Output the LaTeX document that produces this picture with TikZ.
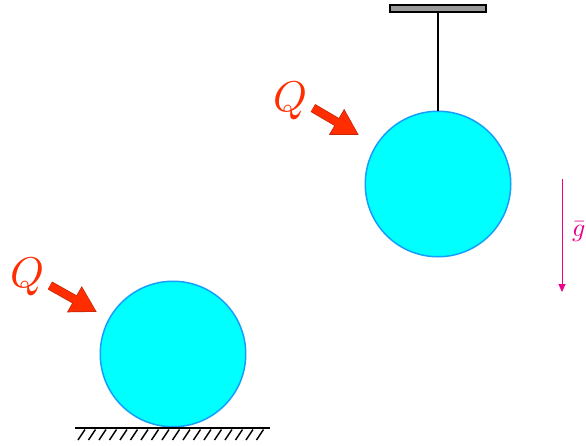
\documentclass[tikz,border=0pt]{standalone}
\usepackage{amsmath}
\usepackage{tikz}
\usetikzlibrary{arrows.meta,positioning,calc}
\definecolor{ballfill}{RGB}{0,255,255}
\definecolor{ballline}{RGB}{20,160,250}
\definecolor{heatred}{RGB}{255,45,0}
\definecolor{heatedge}{RGB}{190,40,10}
\definecolor{gravpink}{RGB}{236,0,140}
\tikzset{
  ball/.style={circle,draw=ballline,fill=ballfill,line width=1.5pt,minimum size=145.5pt,inner sep=0pt},
  heatedgearrow/.style={-{Triangle[length=26pt,width=28pt]},line width=9pt,draw=heatedge},
  heatarrow/.style={-{Triangle[length=24pt,width=25.5pt]},line width=7.5pt,draw=heatred},
  heatlabel/.style={scale=4.3,text=heatred,inner sep=0pt},
}
\begin{document}
\begin{tikzpicture}[x=1pt,y=-1pt]
\useasboundingbox (0,0) rectangle (586,445);
% lower ball on the ground
\node[ball] (lowball) at (173,354) {};
\draw[line width=1.8pt] (75,428) coordinate (groundl) -- (270,428) coordinate (groundr);
\foreach \i in {0,...,17}{
  \draw[line width=1.5pt] ({85+10.5*\i},429.5) -- ({78+10.5*\i},440);
}
\node[heatlabel] (lowq) at (27,276.5) {$Q$};
\coordinate (lowqs) at (50,285.5);
\coordinate (lowqe) at (97,312);
\draw[heatedgearrow] (lowqs) -- (lowqe);
\draw[heatarrow] (lowqs) -- ($(lowqe)!1.2pt!(lowqs)$);
% hanging ball
\node[ball] (highball) at (438,184) {};
\node[draw=black,fill=gray!80,line width=1.1pt,minimum width=96pt,minimum height=7pt,inner sep=0pt] (bar) at (438,8.5) {};
\draw[line width=1.8pt] (bar.south) -- (highball.north);
\node[heatlabel] (highq) at (290,100.5) {$Q$};
\coordinate (highqs) at (313,108);
\coordinate (highqe) at (359,135);
\draw[heatedgearrow] (highqs) -- (highqe);
\draw[heatarrow] (highqs) -- ($(highqe)!1.2pt!(highqs)$);
% gravity
\coordinate (gtop) at (562,179);
\coordinate (gbot) at (562,292);
\draw[gravpink,line width=0.9pt,-{Triangle[length=8pt,width=7pt]}] (gtop) -- (gbot);
\node[scale=2.6,text=gravpink,inner sep=0pt,anchor=west] (glabel) at (571.5,232) {$\bar{g}$};
\end{tikzpicture}
\end{document}
